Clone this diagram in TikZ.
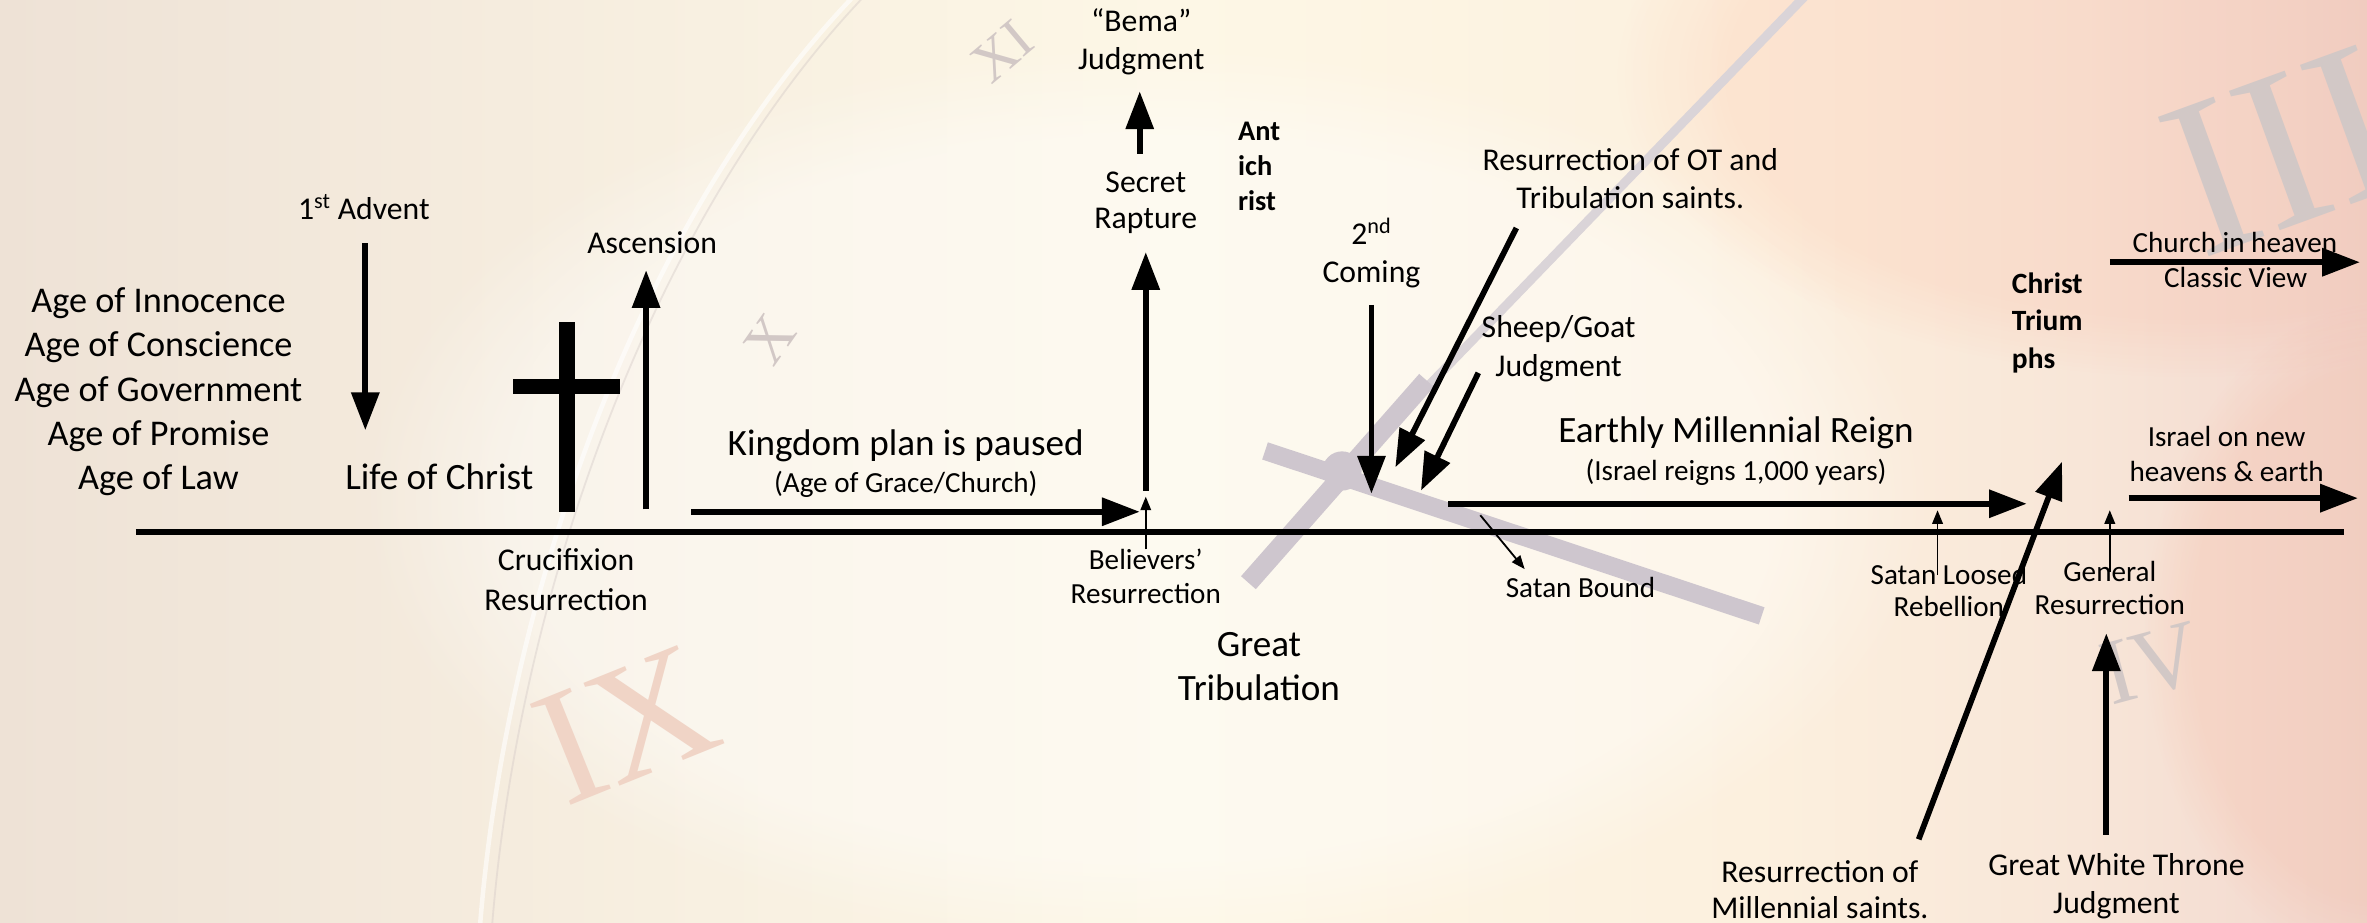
\documentclass[tikz,border=0pt]{standalone}
\usepackage{fontspec}
\setmainfont{Carlito}
\newfontfamily\numfont{Liberation Serif}
\usetikzlibrary{arrows.meta,fadings}
\definecolor{bgA}{RGB}{238,226,214}
\definecolor{bgB}{RGB}{248,240,225}
\definecolor{bgC}{RGB}{253,247,230}
\definecolor{bgD}{RGB}{252,240,222}
\definecolor{bgE}{RGB}{248,230,216}
\definecolor{bgF}{RGB}{241,214,205}
\definecolor{handcol}{RGB}{206,198,206}
\definecolor{handlight}{RGB}{218,212,216}
\definecolor{numgrey}{RGB}{210,200,198}
\definecolor{numred}{RGB}{240,212,198}
\pgfdeclarehorizontalshading{bgshade}{100bp}{color(0bp)=(bgA); color(25bp)=(bgA); color(40bp)=(bgB); color(50bp)=(bgC); color(62bp)=(bgD); color(69bp)=(bgE); color(75bp)=(bgF); color(100bp)=(bgF)}
\tikzset{
  thickarrow/.style={line width=3.8pt, -{Triangle[length=25pt,width=18pt]}},
  thinarrow/.style={line width=1.2pt, -{Triangle[length=9pt,width=7pt]}},
  bigtxt/.style={font=\fontsize{24.6}{29}\selectfont, align=center, inner sep=0pt},
  midtxt/.style={font=\fontsize{21}{25}\selectfont, align=center, inner sep=0pt},
  smalltxt/.style={font=\fontsize{19.3}{22.5}\selectfont, align=center, inner sep=0pt},
  boldtxt/.style={font=\fontsize{19}{24}\selectfont\bfseries, align=left, inner sep=0pt, anchor=west},
  numeral/.style={font=\numfont, inner sep=0pt},
}
\begin{document}
\begin{tikzpicture}[x=1pt,y=-1pt]
\useasboundingbox (0,0) rectangle (1568,611);
% ---------------- background ----------------
\begin{scope}
\clip (0,0) rectangle (1568,611);
\fill[shading=bgshade] (0,0) rectangle (1568,611);
\fill[white, fill opacity=0.4, path fading=circle with fuzzy edge 20 percent] (760,330) ellipse [x radius=520pt, y radius=300pt];
\fill[red!60!orange, fill opacity=0.06, path fading=circle with fuzzy edge 20 percent] (1450,50) ellipse [x radius=380pt, y radius=200pt];
\fill[red!50!orange, fill opacity=0.06, path fading=circle with fuzzy edge 20 percent] (1580,420) ellipse [x radius=160pt, y radius=220pt];
% clock rim
\draw[white, opacity=0.6, line width=3pt] (565,-2) .. controls (420,150) and (335,400) .. (318,613);
\draw[numgrey, opacity=0.4, line width=1.2pt] (572,-2) .. controls (428,150) and (343,400) .. (326,613);
% numerals
\node[numeral, rotate=40, text=numgrey, font=\numfont\fontsize{38}{38}\selectfont] (nXI) at (664,34) {XI};
\node[numeral, rotate=55, text=numgrey, font=\numfont\fontsize{40}{40}\selectfont] (nX) at (510,225) {X};
\node[numeral, rotate=22, text=numred, font=\numfont\fontsize{110}{110}\selectfont] (nIX) at (415,480) {IX};
\node[numeral, rotate=20, text=numgrey, font=\numfont\fontsize{150}{150}\selectfont] (nIII) at (1512,100) {III};
\node[numeral, rotate=15, text=numgrey, font=\numfont\fontsize{62}{62}\selectfont] (nIV) at (1425,440) {IV};
% clock hands
\draw[handlight, line width=6pt, line cap=round] (1198,-5) -- (940,262);
\draw[handcol, line width=13pt] (945,252) -- (827,386);
\draw[handcol, line width=12pt] (838,298.7) -- (1167,408);
\fill[handcol] (889,312) circle [radius=13pt];
\end{scope}
% ---------------- timeline ----------------
\coordinate (tl0) at (90,352.5);
\coordinate (tl1) at (1553,352.5);
\draw[line width=4pt] (tl0) -- (tl1);
% ---------------- left part ----------------
\node[font=\fontsize{24}{29.25}\selectfont, align=center, inner sep=0pt] (ages) at (105,259.5) {Age of Innocence\\Age of Conscience\\Age of Government\\Age of Promise\\Age of Law};
\node[midtxt] (advent) at (241,137) {1\textsuperscript{st} Advent};
\coordinate (adv1) at (242,161);
\coordinate (adv2) at (242,285);
\draw[thickarrow] (adv1) -- (adv2);
\node[bigtxt] (life) at (291,315.5) {Life of Christ};
% cross
\fill (370.3,213) rectangle (380.9,339);
\fill (340,251.3) rectangle (411,261);
\node[midtxt, font=\fontsize{21}{26.5}\selectfont] (cruc) at (375,384) {Crucifixion\\Resurrection};
\node[midtxt] (asc) at (432,161) {Ascension};
\coordinate (asc1) at (428,337.5);
\coordinate (asc2) at (428,179);
\draw[thickarrow] (asc1) -- (asc2);
% kingdom
\node[bigtxt] (kingdom) at (600,295.5) {Kingdom plan is paused};
\node[smalltxt] (grace) at (600,321) {(Age of Grace/Church)};
\coordinate (kg1) at (458,339);
\coordinate (kg2) at (755,339);
\draw[thickarrow] (kg1) -- (kg2);
% rapture
\node[midtxt, font=\fontsize{21}{23.7}\selectfont] (rapture) at (759,134.5) {Secret\\Rapture};
\coordinate (rp1) at (759,325);
\coordinate (rp2) at (759,167);
\draw[thickarrow] (rp1) -- (rp2);
\node[midtxt] (bema) at (756,27.5) {“Bema”\\Judgment};
\coordinate (bm1) at (755,102);
\coordinate (bm2) at (755,60.5);
\draw[thickarrow] (bm1) -- (bm2);
\node[smalltxt] (believers) at (759,382) {Believers’\\Resurrection};
\coordinate (bl1) at (759,364);
\coordinate (bl2) at (759,329);
\draw[thinarrow] (bl1) -- (bl2);
\node[boldtxt, font=\fontsize{18.8}{23.2}\selectfont\bfseries] (anti) at (820,110.4) {Ant\\ich\\rist};
\node[bigtxt] (trib) at (834,441.5) {Great\\Tribulation};
% second coming
\node[midtxt] (second) at (908.5,167.5) {2\textsuperscript{nd}\\Coming};
\coordinate (sc1) at (908.5,202);
\coordinate (sc2) at (908.5,327);
\draw[thickarrow] (sc1) -- (sc2);
\node[midtxt, font=\fontsize{21}{25.5}\selectfont] (otres) at (1080,118.3) {Resurrection of OT and\\Tribulation saints.};
\coordinate (ot1) at (1004.5,151);
\coordinate (ot2) at (924.3,309.6);
\draw[thickarrow] (ot1) -- (ot2);
\node[midtxt, font=\fontsize{21}{26}\selectfont] (sheep) at (1032.5,231) {Sheep/Goat\\Judgment};
\coordinate (sg1) at (979.3,247);
\coordinate (sg2) at (941.3,325);
\draw[thickarrow] (sg1) -- (sg2);
% millennium
\node[bigtxt] (reign) at (1150,287) {Earthly Millennial Reign};
\node[smalltxt] (israel) at (1150,313) {(Israel reigns 1,000 years)};
\coordinate (ml1) at (959.4,333.7);
\coordinate (ml2) at (1342.6,333.7);
\draw[thickarrow] (ml1) -- (ml2);
\node[smalltxt] (bound) at (1047,389.5) {Satan Bound};
\coordinate (sb1) at (980.6,341.3);
\coordinate (sb2) at (1010,377);
\draw[thinarrow] (sb1) -- (sb2);
\node[smalltxt, font=\fontsize{19.3}{21.5}\selectfont] (loosed) at (1291,391.3) {Satan Loosed\\Rebellion};
\coordinate (sl1) at (1283.5,381);
\coordinate (sl2) at (1283.5,338);
\draw[thinarrow] (sl1) -- (sl2);
\node[smalltxt, font=\fontsize{19.3}{21.9}\selectfont] (general) at (1397.6,389.5) {General\\Resurrection};
\coordinate (gr1) at (1397.6,379);
\coordinate (gr2) at (1397.6,338);
\draw[thinarrow] (gr1) -- (gr2);
% bottom right
\node[midtxt, font=\fontsize{21}{24}\selectfont] (msaints) at (1205.6,589.5) {Resurrection of\\Millennial saints.};
\coordinate (ms1) at (1271,556);
\coordinate (ms2) at (1366,305.8);
\draw[thickarrow] (ms1) -- (ms2);
\node[midtxt, font=\fontsize{21}{25.5}\selectfont] (gwt) at (1402,587) {Great White Throne\\Judgment};
\coordinate (gw1) at (1395.3,553);
\coordinate (gw2) at (1395.3,419.5);
\draw[thickarrow] (gw1) -- (gw2);
% right
\node[boldtxt, font=\fontsize{19.5}{24.9}\selectfont\bfseries] (triumph) at (1332.6,213.8) {Christ\\Trium\\phs};
\node[smalltxt] (church) at (1480.5,160.5) {Church in heaven};
\node[smalltxt] (classic) at (1481,183.7) {Classic View};
\coordinate (ch1) at (1397.7,173.7);
\coordinate (ch2) at (1563.3,173.7);
\draw[thickarrow] (ch1) -- (ch2);
\node[smalltxt, font=\fontsize{19.3}{22.7}\selectfont] (newheav) at (1475,300.7) {Israel on new\\heavens \& earth};
\coordinate (is1) at (1410,330);
\coordinate (is2) at (1562,330);
\draw[thickarrow] (is1) -- (is2);
\end{tikzpicture}
\end{document}
